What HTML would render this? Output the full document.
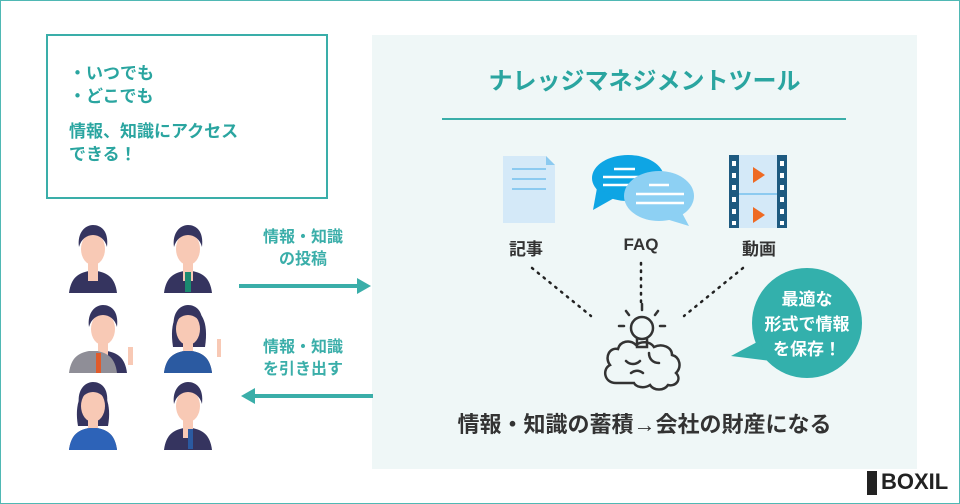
<!DOCTYPE html><html><head><meta charset="utf-8"><style>
body{margin:0}
#c{position:relative;width:958px;height:502px;border:1px solid #4fb8b4;background:#fff;overflow:hidden;font-family:"Liberation Sans","Noto Sans CJK JP",sans-serif;font-weight:bold}
.a{position:absolute}
</style></head><body><div id="c">
<div class="a" style="left:45px;top:33px;width:278px;height:161px;border:2px solid #3aaea9"></div>
<div class="a" style="left:68px;top:61px;color:#2aa5a0;font-size:17px;line-height:23px">・いつでも<br>・どこでも<br><div style="height:12px"></div>情報、知識にアクセス<br>できる！</div>
<div class="a" style="left:371px;top:34px;width:545px;height:434px;background:#eff7f7"></div>
<div class="a" style="left:371px;top:60px;width:545px;text-align:center;color:#2aa5a0;font-size:24px">ナレッジマネジメントツール</div>
<div class="a" style="left:441px;top:117px;width:404px;height:2px;background:#3aaea9"></div>
<div class="a" style="left:242px;top:226px;width:120px;text-align:center;color:#3aaea9;font-size:16px;line-height:22px">情報・知識<br>の投稿</div>
<div class="a" style="left:242px;top:336px;width:120px;text-align:center;color:#3aaea9;font-size:16px;line-height:22px">情報・知識<br>を引き出す</div>
<div class="a" style="left:490px;top:234px;width:70px;text-align:center;color:#333;font-size:17px">記事</div>
<div class="a" style="left:605px;top:234px;width:70px;text-align:center;color:#333;font-size:17px">FAQ</div>
<div class="a" style="left:723px;top:234px;width:70px;text-align:center;color:#333;font-size:17px">動画</div>
<div class="a" style="left:371px;top:406px;width:545px;text-align:center;color:#333;font-size:22px">情報・知識の蓄積→会社の財産になる</div>
<svg class="a" style="left:0;top:0" width="958" height="502">
<g fill="#3aaea9"><rect x="238" y="283" width="120" height="4"/><polygon points="356,277 370,285 356,293"/>
<rect x="252" y="393" width="120" height="4"/><polygon points="254,387 240,395 254,403"/></g>
<path d="M502 155h43l9 9v58h-52z" fill="#d4e9f8"/><path d="M545 155l9 9h-9z" fill="#8ccaf0"/>
<g stroke="#8ccaf0" stroke-width="2"><line x1="511" y1="168" x2="545" y2="168"/><line x1="511" y1="178" x2="545" y2="178"/><line x1="511" y1="188" x2="545" y2="188"/></g>
<ellipse cx="627" cy="177" rx="36" ry="23" fill="#0ea5e4"/><polygon points="596,187 592,209 615,196" fill="#0ea5e4"/>
<g stroke="#fff" stroke-width="2.5"><line x1="613" y1="168" x2="634" y2="168"/><line x1="602" y1="176" x2="640" y2="176"/><line x1="602" y1="184" x2="630" y2="184"/></g>
<ellipse cx="658" cy="195" rx="35" ry="25" fill="#8dd0f3"/><polygon points="680,210 688,225 665,218" fill="#8dd0f3"/>
<g stroke="#fff" stroke-width="2.5"><line x1="648" y1="184" x2="668" y2="184"/><line x1="635" y1="193" x2="683" y2="193"/><line x1="635" y1="202" x2="683" y2="202"/></g>
<rect x="728" y="154" width="58" height="73" fill="#d4e9f8"/>
<rect x="728" y="154" width="10" height="73" fill="#1e5a80"/><rect x="776" y="154" width="10" height="73" fill="#1e5a80"/>
<line x1="738" y1="193" x2="776" y2="193" stroke="#8ccaf0" stroke-width="2"/>
<polygon points="752,166 764,174 752,182" fill="#ee6a24"/><polygon points="752,206 764,214 752,222" fill="#ee6a24"/>
<g fill="#fff"><rect x="731" y="160" width="4" height="5"/><rect x="731" y="172" width="4" height="5"/><rect x="731" y="184" width="4" height="5"/><rect x="731" y="196" width="4" height="5"/><rect x="731" y="208" width="4" height="5"/><rect x="731" y="220" width="4" height="4"/>
<rect x="779" y="160" width="4" height="5"/><rect x="779" y="172" width="4" height="5"/><rect x="779" y="184" width="4" height="5"/><rect x="779" y="196" width="4" height="5"/><rect x="779" y="208" width="4" height="5"/><rect x="779" y="220" width="4" height="4"/></g>
<g stroke="#222" stroke-width="2.5" stroke-dasharray="1.5 6" stroke-linecap="round"><line x1="531" y1="267" x2="590" y2="315"/><line x1="640" y1="262" x2="640" y2="305"/><line x1="742" y1="267" x2="683" y2="315"/></g>
<g fill="none" stroke="#333" stroke-width="2.5" stroke-linecap="round">
<circle cx="641" cy="327" r="11"/><path d="M636 338v8h10v-8"/>
<line x1="641" y1="303" x2="641" y2="309"/><line x1="625" y1="310" x2="628" y2="314"/><line x1="657" y1="310" x2="654" y2="314"/><line x1="618" y1="325" x2="623" y2="325"/><line x1="659" y1="325" x2="664" y2="325"/>
<path d="M615 382c-12 0-14-14-6-18-6-8 0-18 8-16 2-8 12-10 18-4 5-4 14-4 18 2 8-4 18 0 18 8 8 2 10 12 4 18 6 6 0 14-8 12-4 6-14 6-18 0-6 4-14 2-16-2z"/>
<path d="M625 360c4 4 10 4 14 0M648 352c0 6 4 10 10 10M630 372c4-3 8-3 12 0"/></g>
<circle cx="806" cy="322" r="55" fill="#33b0ac"/><polygon points="758,340 730,355 770,360" fill="#33b0ac"/>
<text x="806" y="304" fill="#fff" font-size="17" text-anchor="middle" font-weight="bold">最適な</text>
<text x="806" y="329" fill="#fff" font-size="17" text-anchor="middle" font-weight="bold">形式で情報</text>
<text x="806" y="354" fill="#fff" font-size="17" text-anchor="middle" font-weight="bold">を保存！</text>
<g id="p">
<path d="M68 292c2-16 10-20 20-22h8c10 2 18 6 20 22z" fill="#35345f"/>
<rect x="87" y="262" width="10" height="18" fill="#f8c9b5"/>
<ellipse cx="92" cy="248" rx="12" ry="16" fill="#f8c9b5"/>
<path d="M78 246c-2-14 6-22 14-22s16 6 14 22c-2-8-8-12-14-12s-12 4-14 12z" fill="#35345f"/>
</g>
<use href="#p" x="95" y="0"/>
<rect x="184" y="271" width="6" height="20" fill="#1b8a70"/>
<use href="#p" x="10" y="80"/>
<path d="M68 372c2-16 10-20 20-22h8c10 2 18 6 20 22z" fill="#8f8e97"/><rect x="95" y="352" width="5" height="20" fill="#e05b2c"/>
<path d="M172 346c-4-26 4-38 16-38s20 12 16 38z" fill="#35345f"/>
<use href="#p" x="95" y="80"/>
<path d="M163 372c2-16 10-20 20-22h8c10 2 18 6 20 22z" fill="#2b5aa1"/>
<path d="M77 425c-4-22 3-38 15-38s19 16 15 38z" fill="#35345f"/>
<use href="#p" x="0" y="157"/>
<path d="M68 449c2-16 10-20 20-22h8c10 2 18 6 20 22z" fill="#2d63b8"/>
<use href="#p" x="95" y="157"/>
<rect x="187" y="428" width="5" height="20" fill="#2b5aa1"/>
<g fill="#f8c9b5"><rect x="127" y="346" width="5" height="18"/><rect x="216" y="338" width="4" height="18"/></g>
</svg>
<div class="a" style="left:866px;top:470px;width:10px;height:24px;background:#222"></div>
<div class="a" style="left:880px;top:468px;font-size:22px;color:#222;letter-spacing:0px">BOXIL</div>
</div></body></html>
